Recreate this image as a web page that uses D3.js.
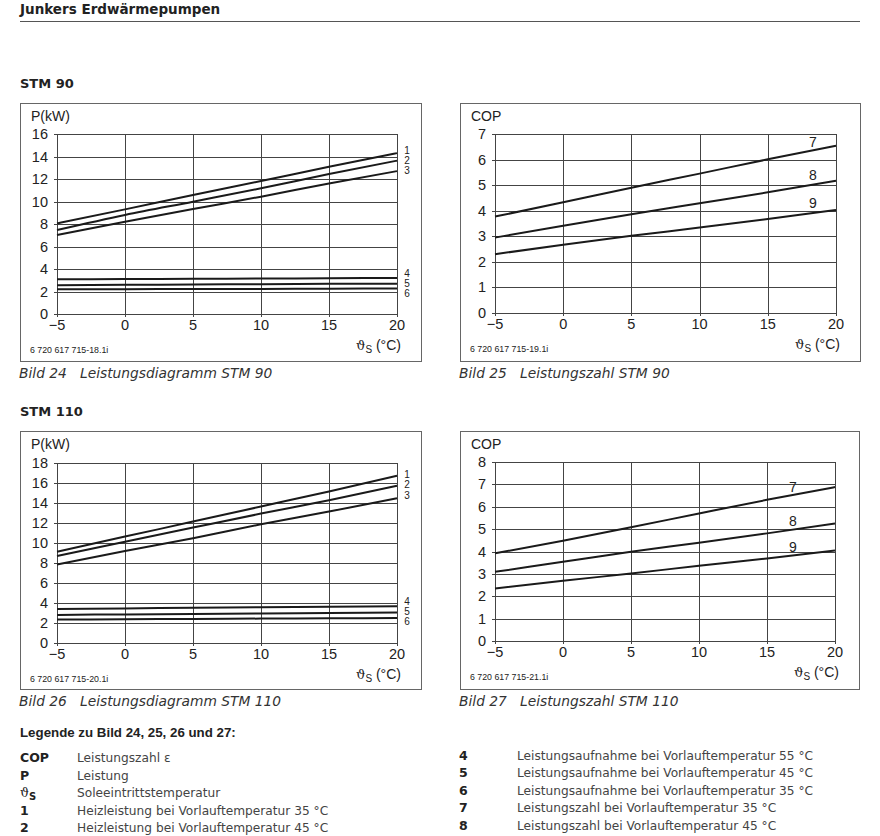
<!DOCTYPE html>
<html><head><meta charset="utf-8">
<script src="https://cdn.jsdelivr.net/npm/d3@7"></script>
<style>
html,body{margin:0;padding:0;background:#fff;}
</style></head>
<body><svg id="c" width="880" height="836" font-family="'Liberation Sans', Arial, sans-serif"></svg>
<script>
// ---------- data ----------
const xTemps = [-5, 0, 5, 10, 15, 20];
const xTicks = [-5, 0, 5, 10, 15, 20];

// STM 90 power (kW)
const stm90_P1 = [8.05, 9.3, 10.58, 11.82, 13.08, 14.3];
const stm90_P2 = [7.46, 8.8, 9.98, 11.17, 12.44, 13.63];
const stm90_P3 = [7.02, 8.2, 9.33, 10.43, 11.6, 12.7];
const stm90_P4 = [3.09, 3.11, 3.13, 3.15, 3.18, 3.2];
const stm90_P5 = [2.56, 2.59, 2.62, 2.65, 2.68, 2.7];
const stm90_P6 = [2.2, 2.21, 2.22, 2.23, 2.25, 2.26];
const stm90_PTicks = [0, 2, 4, 6, 8, 10, 12, 14, 16];

// STM 90 COP
const stm90_C7 = [3.77, 4.33, 4.9, 5.45, 6.01, 6.54];
const stm90_C8 = [2.95, 3.41, 3.86, 4.29, 4.72, 5.17];
const stm90_C9 = [2.3, 2.67, 3.02, 3.34, 3.68, 4.03];
const stm90_CTicks = [0, 1, 2, 3, 4, 5, 6, 7];

// STM 110 power (kW)
const stm110_P1 = [9.13, 10.64, 12.14, 13.65, 15.15, 16.72];
const stm110_P2 = [8.7, 10.13, 11.54, 12.94, 14.28, 15.72];
const stm110_P3 = [7.86, 9.2, 10.47, 11.87, 13.14, 14.48];
const stm110_P4 = [3.41, 3.46, 3.52, 3.57, 3.63, 3.68];
const stm110_P5 = [2.81, 2.86, 2.9, 2.95, 3.0, 3.04];
const stm110_P6 = [2.34, 2.37, 2.41, 2.44, 2.47, 2.5];
const stm110_PTicks = [0, 2, 4, 6, 8, 10, 12, 14, 16, 18];

// STM 110 COP
const stm110_C7 = [3.92, 4.48, 5.08, 5.7, 6.31, 6.88];
const stm110_C8 = [3.09, 3.54, 3.99, 4.39, 4.81, 5.25];
const stm110_C9 = [2.35, 2.69, 3.02, 3.36, 3.69, 4.04];
const stm110_CTicks = [0, 1, 2, 3, 4, 5, 6, 7, 8];

const legendLeftKeys = ["COP", "P", "ϑS", "1", "2"];
const legendLeftTexts = ["Leistungszahl ε", "Leistung", "Soleeintrittstemperatur",
  "Heizleistung bei Vorlauftemperatur 35 °C", "Heizleistung bei Vorlauftemperatur 45 °C"];
const legendRightKeys = ["4", "5", "6", "7", "8"];
const legendRightTexts = ["Leistungsaufnahme bei Vorlauftemperatur 55 °C",
  "Leistungsaufnahme bei Vorlauftemperatur 45 °C", "Leistungsaufnahme bei Vorlauftemperatur 35 °C",
  "Leistungszahl bei Vorlauftemperatur 35 °C", "Leistungszahl bei Vorlauftemperatur 45 °C"];

// ---------- drawing ----------
const svg = d3.select("#c");
const ink = "#222";
const grid = "#444";
const wide = "'DejaVu Sans', sans-serif";

svg.append("text").attr("x", 20).attr("y", 14).attr("font-size", 13.5)
  .attr("font-family", wide).attr("font-weight", "bold").attr("fill", "#222")
  .text("Junkers Erdwärmepumpen");
svg.append("line").attr("x1", 20).attr("x2", 860).attr("y1", 21.5).attr("y2", 21.5)
  .attr("stroke", "#555").attr("stroke-width", 1);

svg.append("text").attr("x", 20).attr("y", 88).attr("font-size", 13)
  .attr("font-family", wide).attr("font-weight", "bold").attr("fill", "#222").text("STM 90");
svg.append("text").attr("x", 20).attr("y", 416).attr("font-size", 13)
  .attr("font-family", wide).attr("font-weight", "bold").attr("fill", "#222").text("STM 110");

function drawChart(cfg) {
  const g = svg.append("g");
  g.append("rect").attr("x", cfg.box[0] + 0.5).attr("y", cfg.box[1] + 0.5)
    .attr("width", cfg.box[2] - cfg.box[0]).attr("height", cfg.box[3] - cfg.box[1])
    .attr("fill", "none").attr("stroke", "#666").attr("stroke-width", 1);

  const x = d3.scaleLinear().domain([-5, 20]).range([cfg.px0, cfg.px1]);
  const y = d3.scaleLinear().domain([0, cfg.yMax]).range([cfg.py0, cfg.py1]);

  g.selectAll(".hg").data(cfg.yTicks).enter().append("line")
    .attr("x1", cfg.px0 - 3).attr("x2", cfg.px1)
    .attr("y1", d => Math.round(y(d)) + 0.5).attr("y2", d => Math.round(y(d)) + 0.5)
    .attr("stroke", grid).attr("stroke-width", 1);
  g.selectAll(".vg").data(xTicks).enter().append("line")
    .attr("x1", d => Math.round(x(d)) + 0.5).attr("x2", d => Math.round(x(d)) + 0.5)
    .attr("y1", cfg.py1).attr("y2", cfg.py0 + 3)
    .attr("stroke", grid).attr("stroke-width", 1);

  g.selectAll(".yl").data(cfg.yTicks).enter().append("text")
    .attr("x", cfg.px0 - 9).attr("y", d => y(d) + 5)
    .attr("text-anchor", "end").attr("font-size", 14.5).attr("fill", ink)
    .text(d => d);
  g.selectAll(".xl").data(xTicks).enter().append("text")
    .attr("x", d => x(d)).attr("y", cfg.py0 + 16)
    .attr("text-anchor", "middle").attr("font-size", 14.5).attr("fill", ink)
    .text(d => d < 0 ? "\u2212" + Math.abs(d) : d);

  g.append("text").attr("x", cfg.box[0] + 11).attr("y", cfg.box[1] + 18)
    .attr("font-size", 14).attr("fill", ink).text(cfg.yTitle);
  const xt = g.append("text").attr("x", cfg.px1 + 4).attr("y", cfg.py0 + 36)
    .attr("text-anchor", "end").attr("font-size", 14).attr("fill", ink);
  xt.append("tspan").attr("font-family", "DejaVu Serif").attr("font-size", 13).text("ϑ");
  xt.append("tspan").attr("font-size", 10).attr("dy", 3).text("S");
  xt.append("tspan").attr("dy", -3).text(" (°C)");

  g.append("text").attr("x", cfg.box[0] + 10).attr("y", cfg.py0 + 39)
    .attr("font-size", 8.8).attr("fill", ink).text(cfg.code);

  const line = d3.line().x((d, i) => x(xTemps[i])).y(d => y(d)).curve(d3.curveMonotoneX);
  cfg.series.forEach(s => {
    g.append("path").attr("d", line(s.values)).attr("fill", "none")
      .attr("stroke", "#1a1a1a").attr("stroke-width", 2);
    g.append("text").attr("x", s.lx).attr("y", s.ly).attr("font-size", cfg.labelSize)
      .attr("text-anchor", "middle").attr("fill", ink).text(s.name);
  });

  g.append("text").attr("x", cfg.box[0] - 1).attr("y", cfg.box[3] + 17)
    .attr("font-size", 13.8).attr("font-family", wide).attr("font-style", "italic")
    .attr("fill", "#333").attr("xml:space", "preserve").text(cfg.caption);
}

drawChart({
  box: [20, 103, 421, 361], px0: 57, px1: 397, py0: 314, py1: 134, yMax: 16,
  yTicks: stm90_PTicks, yTitle: "P(kW)", code: "6 720 617 715-18.1i",
  caption: "Bild 24   Leistungsdiagramm STM 90", labelSize: 10,
  series: [
    {name: "1", values: stm90_P1, lx: 407, ly: 154},
    {name: "2", values: stm90_P2, lx: 407, ly: 164},
    {name: "3", values: stm90_P3, lx: 407, ly: 174},
    {name: "4", values: stm90_P4, lx: 407, ly: 277},
    {name: "5", values: stm90_P5, lx: 407, ly: 287},
    {name: "6", values: stm90_P6, lx: 407, ly: 297}
  ]
});
drawChart({
  box: [460, 103, 860, 361], px0: 495, px1: 836, py0: 313, py1: 134, yMax: 7,
  yTicks: stm90_CTicks, yTitle: "COP", code: "6 720 617 715-19.1i",
  caption: "Bild 25   Leistungszahl STM 90", labelSize: 14,
  series: [
    {name: "7", values: stm90_C7, lx: 813, ly: 147},
    {name: "8", values: stm90_C8, lx: 813, ly: 180},
    {name: "9", values: stm90_C9, lx: 813, ly: 208}
  ]
});
drawChart({
  box: [20, 431, 421, 689], px0: 57, px1: 397, py0: 643, py1: 463, yMax: 18,
  yTicks: stm110_PTicks, yTitle: "P(kW)", code: "6 720 617 715-20.1i",
  caption: "Bild 26   Leistungsdiagramm STM 110", labelSize: 10,
  series: [
    {name: "1", values: stm110_P1, lx: 407, ly: 478},
    {name: "2", values: stm110_P2, lx: 407, ly: 488},
    {name: "3", values: stm110_P3, lx: 407, ly: 499},
    {name: "4", values: stm110_P4, lx: 407, ly: 605},
    {name: "5", values: stm110_P5, lx: 407, ly: 615},
    {name: "6", values: stm110_P6, lx: 407, ly: 625}
  ]
});
drawChart({
  box: [460, 431, 859, 689], px0: 495, px1: 835, py0: 641, py1: 462, yMax: 8,
  yTicks: stm110_CTicks, yTitle: "COP", code: "6 720 617 715-21.1i",
  caption: "Bild 27   Leistungszahl STM 110", labelSize: 14,
  series: [
    {name: "7", values: stm110_C7, lx: 793, ly: 492},
    {name: "8", values: stm110_C8, lx: 793, ly: 526},
    {name: "9", values: stm110_C9, lx: 793, ly: 552}
  ]
});

// legend
svg.append("text").attr("x", 20).attr("y", 737).attr("font-size", 13.3)
  .attr("font-weight", "bold").attr("fill", "#222").text("Legende zu Bild 24, 25, 26 und 27:");

function legendCol(keys, texts, kx, tx, y0) {
  keys.forEach((k, i) => {
    const yy = y0 + i * 17.6;
    const kt = svg.append("text").attr("x", kx).attr("y", yy).attr("font-size", 12.5)
      .attr("font-family", wide).attr("font-weight", "bold").attr("fill", "#222");
    if (k === "ϑS") {
      kt.append("tspan").attr("font-family", "DejaVu Serif").attr("font-weight", "normal").text("ϑ");
      kt.append("tspan").attr("font-size", 10).attr("dy", 3).text("S");
    } else kt.text(k);
    svg.append("text").attr("x", tx).attr("y", yy).attr("font-size", 12.2)
      .attr("font-family", wide).attr("fill", "#444").text(texts[i]);
  });
}
legendCol(legendLeftKeys, legendLeftTexts, 20, 77, 762);
legendCol(legendRightKeys, legendRightTexts, 459, 517, 759.5);
</script></body></html>
